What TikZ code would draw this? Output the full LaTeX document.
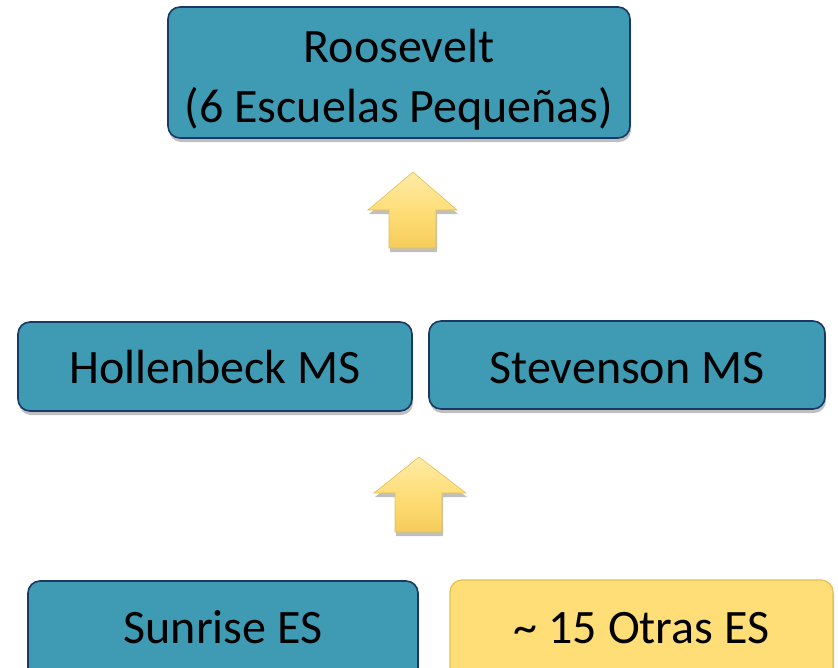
\documentclass[tikz,border=0pt]{standalone}
\usepackage{fontspec}
\setmainfont{Carlito}
\usetikzlibrary{shadows}
\definecolor{tealmid}{HTML}{3F9AB3}
\definecolor{tealtop}{HTML}{74CBE3}
\definecolor{tealdk}{HTML}{35869E}
\definecolor{navy}{HTML}{1A3866}
\definecolor{ylw}{HTML}{FFDE78}
\definecolor{ylwtop}{HTML}{FFEBA8}
\definecolor{ylwdk}{HTML}{F5CC5A}
\definecolor{ylwedge}{HTML}{E2BE55}
\pgfdeclareverticalshading{tealsh}{100bp}{color(0bp)=(tealdk); color(8bp)=(tealmid); color(85bp)=(tealmid); color(100bp)=(tealtop)}
\pgfdeclareverticalshading{ylwsh}{100bp}{color(0bp)=(ylwdk); color(8bp)=(ylw); color(85bp)=(ylw); color(100bp)=(ylwtop)}
\tikzset{
  boxbase/.style={rounded corners=12pt, inner xsep=0pt, inner ysep=0pt,
    font=\fontsize{48}{58}\selectfont, text=black,
    drop shadow={shadow xshift=1pt, shadow yshift=-4pt, opacity=0.25, fill=black}},
  tealbox/.style={boxbase, shading=tealsh, draw=navy, line width=1.6pt},
  ylwbox/.style={boxbase, shading=ylwsh, draw=ylwedge, line width=1.2pt},
  uparrow/.style={top color=ylwtop, bottom color=ylwdk, middle color=ylw, draw=ylwedge, line width=0.6pt, line join=miter,
    drop shadow={shadow xshift=1pt, shadow yshift=-4pt, opacity=0.25, fill=black}},
  lbl/.style={font=\fontsize{48}{60}\selectfont, text=black, align=center, inner sep=0pt}
}
\begin{document}
\begin{tikzpicture}[x=1pt, y=-1pt]
\useasboundingbox (0,0) rectangle (838,667);
\clip (0,0) rectangle (838,667);
% top box
\node[tealbox, minimum width=462pt, minimum height=131pt] (roos) at (399,72.5) {};
\node[lbl] (roostxt) at (399,80) {Roosevelt\\(6 Escuelas Pequeñas)};
% middle boxes
\node[tealbox, anchor=base, minimum width=394pt, text height=61pt, text depth=28pt] (holl) at (215,383) {Hollenbeck MS};
\node[tealbox, anchor=base, minimum width=396pt, text height=62pt, text depth=26pt] (stev) at (627,383) {Stevenson MS};
% bottom boxes
\node[tealbox, anchor=base, minimum width=390pt, text height=62pt, text depth=50pt] (sunr) at (223,643) {Sunrise ES};
\node[ylwbox, anchor=base, minimum width=383pt, text height=63pt, text depth=50pt] (otras) at (641.5,643) {\textasciitilde{} 15 Otras ES};
% arrows
\path[uparrow] (389,248) -- (389,210) -- (368,210) -- (413,172) -- (457,210) -- (436,210) -- (436,248) -- cycle;
\path[uparrow] (395,532) -- (395,493) -- (374,493) -- (419,457) -- (466,493) -- (442,493) -- (442,532) -- cycle;
\end{tikzpicture}
\end{document}
